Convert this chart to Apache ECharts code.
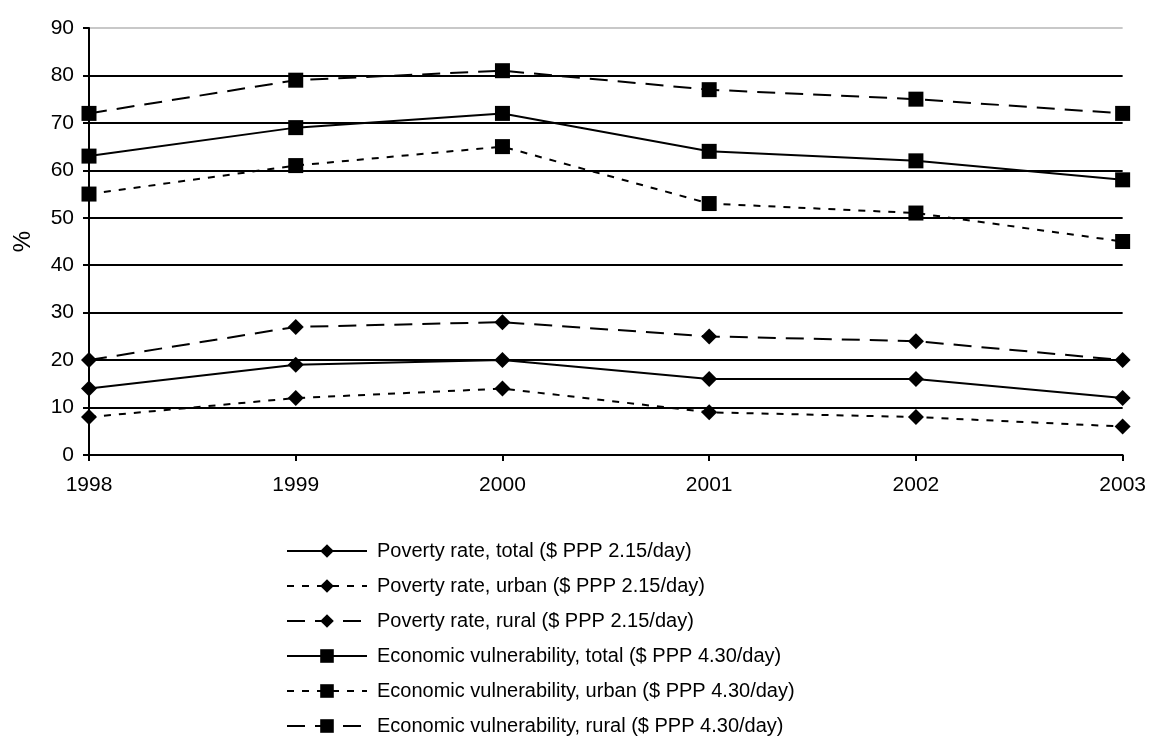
<!DOCTYPE html>
<html><head><meta charset="utf-8">
<script src="https://cdn.jsdelivr.net/npm/echarts@6/dist/echarts.min.js"></script>
<style>html,body{margin:0;padding:0;background:#fff}#c{width:1149px;height:755px}</style>
</head><body><div id="c"></div>
<script>
const years = ['1998','1999','2000','2001','2002','2003'];
const povTotal = [14, 19, 20, 16, 16, 12];
const povUrban = [8, 12, 14, 9, 8, 6];
const povRural = [20, 27, 28, 25, 24, 20];
const evTotal = [63, 69, 72, 64, 62, 58];
const evUrban = [55, 61, 65, 53, 51, 45];
const evRural = [72, 79, 81, 77, 75, 72];
const names = [
  'Poverty rate, total ($ PPP 2.15/day)',
  'Poverty rate, urban ($ PPP 2.15/day)',
  'Poverty rate, rural ($ PPP 2.15/day)',
  'Economic vulnerability, total ($ PPP 4.30/day)',
  'Economic vulnerability, urban ($ PPP 4.30/day)',
  'Economic vulnerability, rural ($ PPP 4.30/day)'
];
const dotted = [7, 8];
const dashed = [18, 10];
function s(name, data, symbol, dash, size) {
  return {
    name, type: 'line', data, symbol, symbolSize: size,
    itemStyle: { color: '#000' },
    lineStyle: { color: '#000', width: 2, type: dash },
    emphasis: { disabled: true }, animation: false
  };
}
const font = 'Liberation Sans, Arial';
const chart = echarts.init(document.getElementById('c'));
chart.setOption({
  animation: false,
  grid: { left: 89, right: 26, top: 28, bottom: 300, containLabel: false },
  xAxis: {
    type: 'category', data: years, boundaryGap: false,
    axisLine: { lineStyle: { color: '#000', width: 2 } },
    axisTick: { show: true, inside: false, length: 6, lineStyle: { color: '#000', width: 2 }, alignWithLabel: true },
    axisLabel: { color: '#000', fontFamily: font, fontSize: 21, margin: 20 },
    splitLine: { show: false }
  },
  yAxis: {
    type: 'value', min: 0, max: 90, interval: 10,
    name: '%', nameLocation: 'middle', nameGap: 54, nameRotate: 90,
    nameTextStyle: { color: '#000', fontFamily: font, fontSize: 24 },
    axisLine: { show: true, lineStyle: { color: '#000', width: 2 } },
    axisTick: { show: true, length: 6, lineStyle: { color: '#000', width: 2 } },
    axisLabel: { color: '#000', fontFamily: font, fontSize: 21, margin: 15 },
    splitLine: { show: true, lineStyle: { color: ['#000','#000','#000','#000','#000','#000','#000','#000','#000','#c8c8c8'], width: 2 } }
  },
  legend: {
    orient: 'vertical', left: 281, top: 536, itemWidth: 80, itemHeight: 17, itemGap: 15,
    textStyle: { color: '#000', fontFamily: font, fontSize: 20, padding: [0, 0, 0, 5] },
    data: names
  },
  series: [
    s(names[0], povTotal, 'diamond', 'solid', 16),
    s(names[1], povUrban, 'diamond', dotted, 16),
    s(names[2], povRural, 'diamond', dashed, 16),
    s(names[3], evTotal, 'rect', 'solid', 15),
    s(names[4], evUrban, 'rect', dotted, 15),
    s(names[5], evRural, 'rect', dashed, 15)
  ]
});
</script></body></html>
